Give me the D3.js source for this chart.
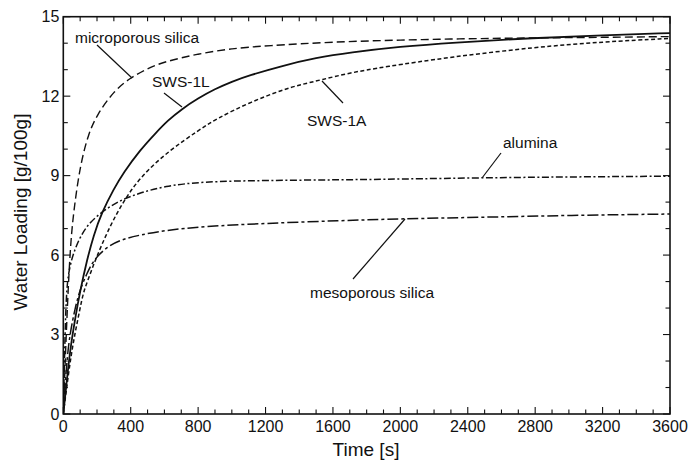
<!DOCTYPE html>
<html><head><meta charset="utf-8">
<script src="https://cdn.jsdelivr.net/npm/d3@7/dist/d3.min.js"></script>
<style>body{margin:0;background:#fff;} svg{display:block;font-family:"Liberation Sans",Arial,Helvetica,sans-serif;}</style>
</head><body>
<svg id="chart" width="690" height="464"></svg>
<script>
// ---- data ----
const xTicks = [0,400,800,1200,1600,2000,2400,2800,3200,3600];
const yTicks = [0,3,6,9,12,15];

const microT = [0,20,40,60,100,150,200,300,400,500,600,800,1000,1200,1600,2000,2400,2800,3200,3600];
const microV = [0,3.5,6.2,7.6,9.4,10.6,11.3,12.2,12.7,13.05,13.3,13.6,13.8,13.9,14.05,14.12,14.17,14.2,14.22,14.25];

const sws1lT = [0,20,40,70,100,140,180,228,300,356,456,550,620,700,800,900,1000,1100,1300,1500,1700,2000,2300,2800,3200,3600];
const sws1lV = [0,1.2,2.4,3.6,4.65,5.8,6.75,7.6,8.5,9.1,9.97,10.62,11.08,11.5,11.92,12.27,12.55,12.78,13.15,13.45,13.65,13.87,14.02,14.2,14.3,14.38];

const sws1aT = [0,30,58,100,119,160,198,258,337,456,634,800,910,1100,1305,1405,1533,1700,1900,2300,2800,3200,3600];
const sws1aV = [0,1.5,2.7,4.0,4.6,5.3,5.94,6.83,7.83,8.97,9.97,10.7,11.15,11.75,12.25,12.43,12.62,12.88,13.1,13.48,13.85,14.05,14.18];

const aluT = [0,10,20,40,60,100,158,258,350,456,600,812,1200,1642,2000,2500,3000,3600];
const aluV = [0,3.0,4.9,5.6,6.07,6.7,7.26,7.77,8.1,8.35,8.6,8.77,8.82,8.84,8.87,8.92,8.95,8.98];

const mesoT = [0,20,40,70,99,140,178,258,350,456,600,830,1200,1642,2000,2500,3000,3600];
const mesoV = [0,2.0,3.05,4.0,4.7,5.3,5.8,6.32,6.6,6.76,6.93,7.08,7.2,7.3,7.37,7.43,7.5,7.55];

const seriesNames = ["microporous silica","SWS-1L","SWS-1A","alumina","mesoporous silica"];

// ---- layout ----
const svg = d3.select("#chart");
const L = 63.3, R = 670, T = 16.7, B = 414;
const x = d3.scaleLinear().domain([0,3600]).range([L,R]);
const y = d3.scaleLinear().domain([0,15]).range([B,T]);
const ink = "#111";

// frame
svg.append("rect").attr("x",L).attr("y",T).attr("width",R-L).attr("height",B-T)
  .attr("fill","none").attr("stroke",ink).attr("stroke-width",1.6);

// ticks (inward on all sides)
const xMinor = d3.range(0,3601,100);
const yMinor = d3.range(0,16,1);
const g = svg.append("g").attr("stroke",ink).attr("stroke-width",1.1);
xMinor.forEach(t=>{
  const len = (t%400===0)?7:4.5;
  g.append("line").attr("x1",x(t)).attr("x2",x(t)).attr("y1",B).attr("y2",B-len);
  g.append("line").attr("x1",x(t)).attr("x2",x(t)).attr("y1",T).attr("y2",T+len);
});
yMinor.forEach(v=>{
  const len = (v%3===0)?7:4.5;
  g.append("line").attr("y1",y(v)).attr("y2",y(v)).attr("x1",L).attr("x2",L+len);
  g.append("line").attr("y1",y(v)).attr("y2",y(v)).attr("x1",R).attr("x2",R-len);
});

// tick labels
svg.append("g").selectAll("text").data(xTicks).join("text")
  .attr("x",d=>x(d)).attr("y",432).attr("text-anchor","middle")
  .attr("font-size",16).attr("fill",ink).text(d=>d);
svg.append("g").selectAll("text").data(yTicks).join("text")
  .attr("x",L-4).attr("y",d=>y(d)).attr("dy","0.36em").attr("text-anchor","end")
  .attr("font-size",16).attr("fill",ink).text(d=>d);

// axis titles
svg.append("text").attr("x",366).attr("y",456).attr("text-anchor","middle")
  .attr("font-size",19).attr("fill",ink).text("Time [s]");
svg.append("text").attr("transform","translate(27,212) rotate(-90)").attr("text-anchor","middle")
  .attr("font-size",19).attr("fill",ink).text("Water Loading [g/100g]");

// curves
const line = d3.line().x(d=>x(d[0])).y(d=>y(d[1])).curve(d3.curveBasis);
const curves = [
  {t:microT, v:microV, dash:"8,4", w:1.4},
  {t:sws1lT, v:sws1lV, dash:null, w:1.8},
  {t:sws1aT, v:sws1aV, dash:"4,2.5", w:1.5},
  {t:aluT, v:aluV, dash:"7,2.5,2,2.5", w:1.5},
  {t:mesoT, v:mesoV, dash:"11,3,3,3", w:1.5}
];
svg.append("clipPath").attr("id","pc").append("rect")
  .attr("x",L).attr("y",T).attr("width",R-L).attr("height",B-T);
curves.forEach(c=>{
  const pts = c.t.map((t,i)=>[t,c.v[i]]);
  svg.append("path").attr("d",line(pts)).attr("fill","none").attr("stroke",ink)
    .attr("stroke-width",c.w).attr("stroke-dasharray",c.dash).attr("clip-path","url(#pc)");
});

// annotations: label text and leader lines
const notes = [
  {name:seriesNames[0], tx:75, ty:43, l:[[97,45],[132,78]]},
  {name:seriesNames[1], tx:152, ty:87, l:[[164,93],[182,107]]},
  {name:seriesNames[2], tx:307, ty:126, l:[[343,103],[322,81]]},
  {name:seriesNames[3], tx:503, ty:148, l:[[501,153],[482,178]]},
  {name:seriesNames[4], tx:310, ty:298, l:[[353,279],[405,219]]}
];
notes.forEach(n=>{
  svg.append("text").attr("x",n.tx).attr("y",n.ty).attr("font-size",15.5).attr("fill",ink).text(n.name);
  svg.append("line").attr("x1",n.l[0][0]).attr("y1",n.l[0][1]).attr("x2",n.l[1][0]).attr("y2",n.l[1][1])
    .attr("stroke",ink).attr("stroke-width",1.2);
});
</script>
</body></html>
